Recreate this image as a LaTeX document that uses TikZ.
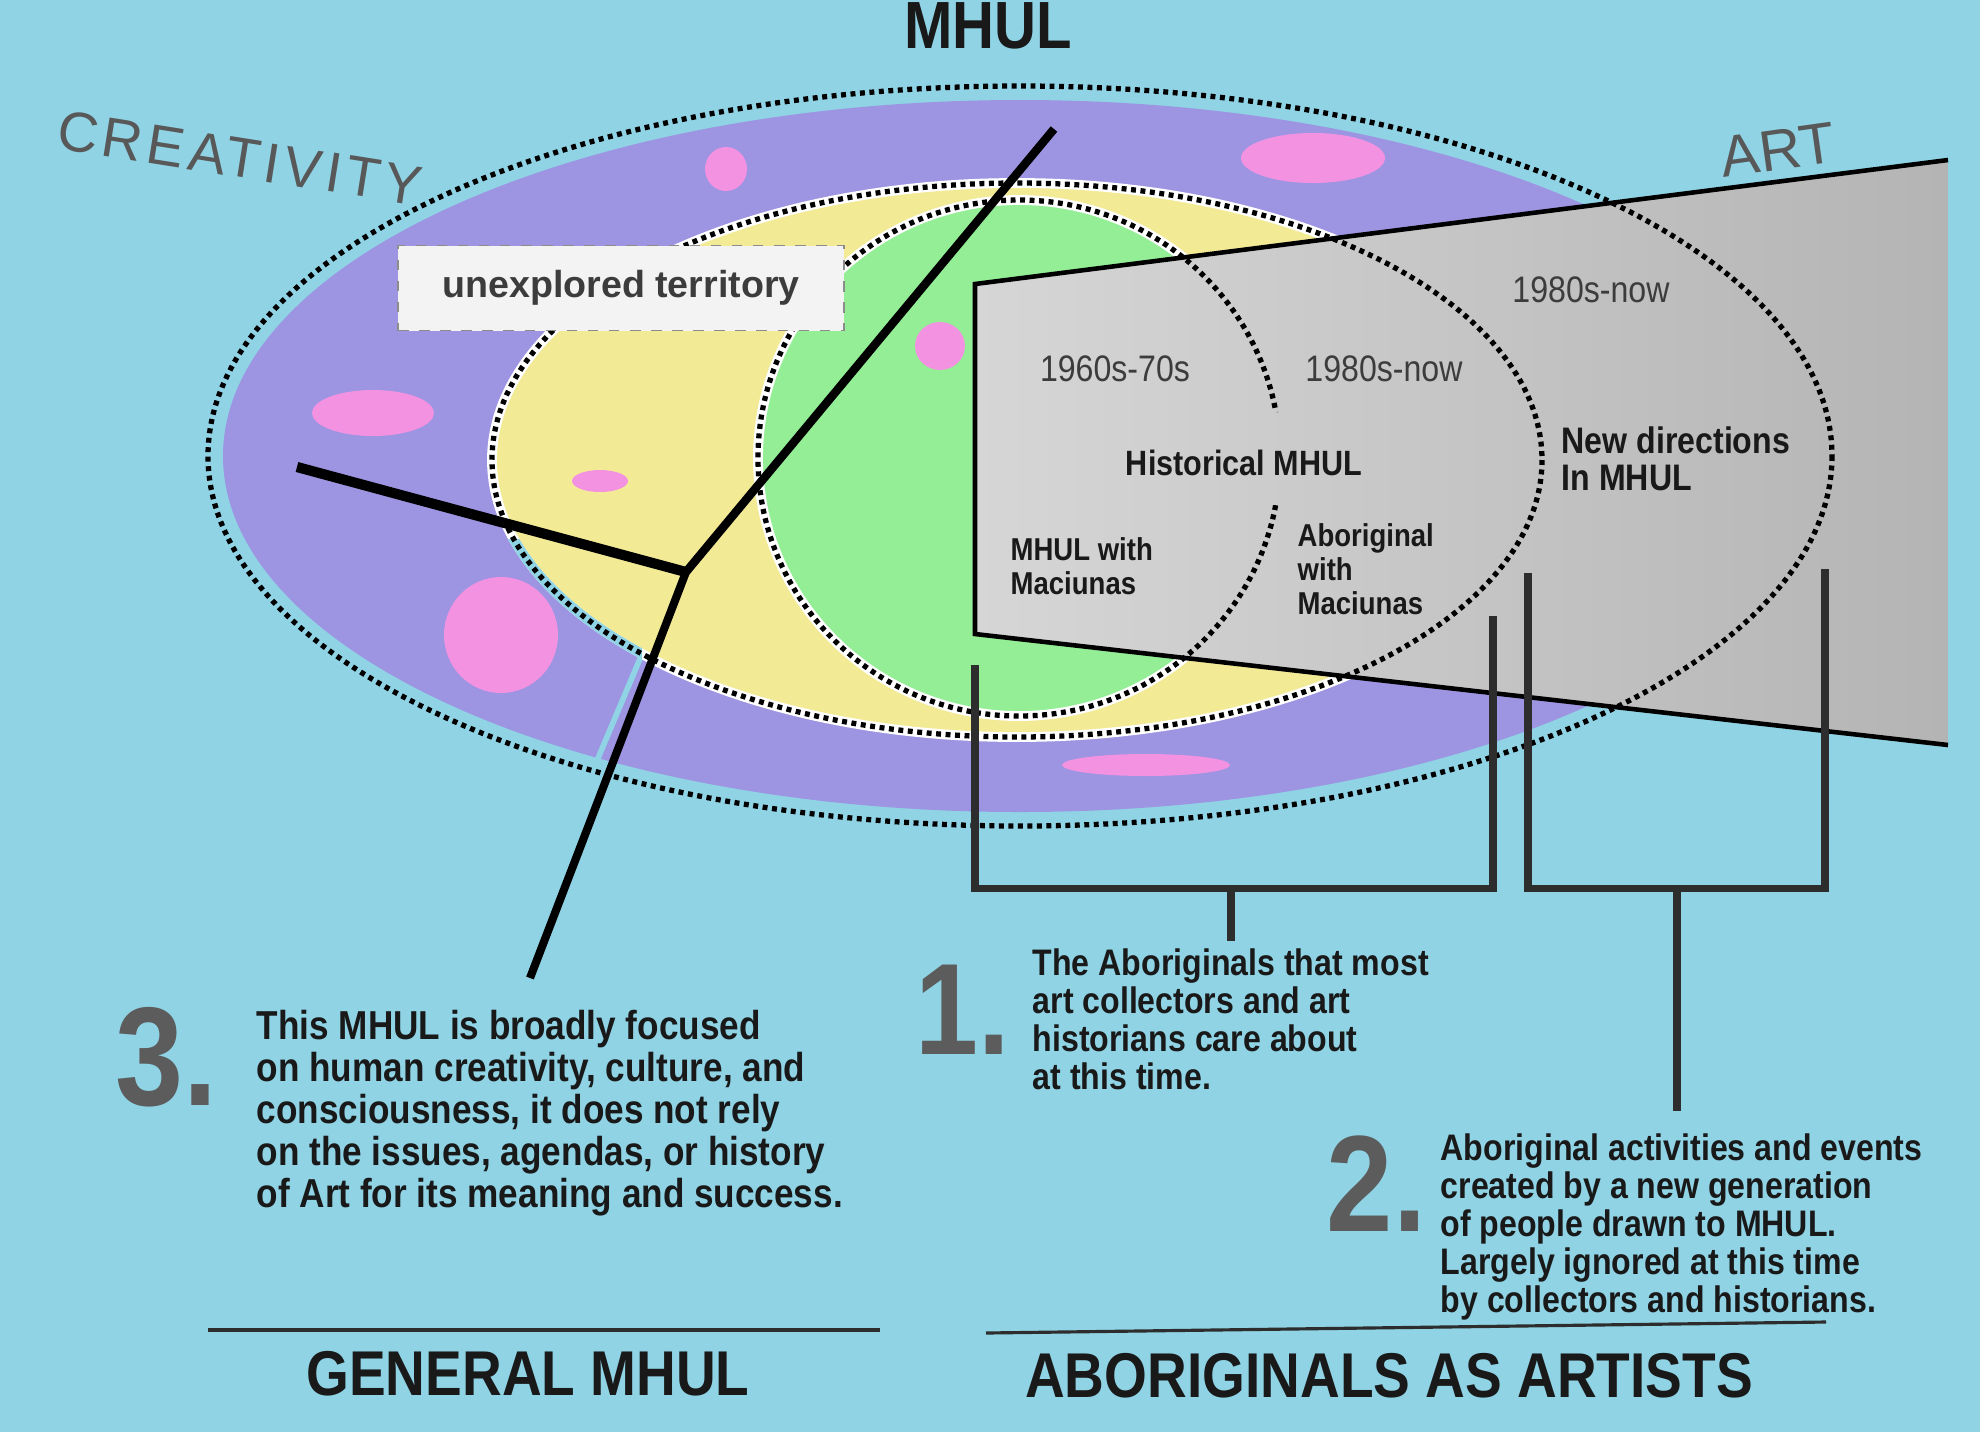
\documentclass[tikz,border=0pt]{standalone}
\usepackage{fontspec}
\setmainfont{Liberation Sans}
\newfontfamily\narrowsans[FakeStretch=0.87]{Liberation Sans}
\newfontfamily\widesans[LetterSpace=8]{Liberation Sans}
\definecolor{skyback}{RGB}{143,211,229}
\definecolor{lavender}{RGB}{157,148,226}
\definecolor{butter}{RGB}{243,234,150}
\definecolor{mint}{RGB}{148,238,150}
\definecolor{candy}{RGB}{244,146,226}
\definecolor{greyL}{RGB}{214,214,214}
\definecolor{greyR}{RGB}{180,180,180}
\definecolor{numcol}{RGB}{92,92,92}
\definecolor{labelgray}{RGB}{88,88,88}
\definecolor{eracol}{RGB}{60,60,60}
\definecolor{inkcol}{RGB}{25,25,25}
\definecolor{barcol}{RGB}{45,45,45}
\definecolor{boxfill}{RGB}{243,243,243}
\definecolor{boxedge}{RGB}{140,140,140}

\begin{document}
\begin{tikzpicture}[x=0.1mm,y=-0.1mm,
  dotline/.style={line width=1.5pt,dash pattern=on 1.4pt off 1.3pt},
  band/.style={white,line width=2.8pt},
  bar/.style={line width=2pt,draw=barcol},
  rule/.style={line width=0.9pt,draw=barcol},
  era/.style={font=\narrowsans\fontsize{10.5}{12}\selectfont,text=eracol,anchor=base,inner sep=0pt},
  zone/.style={font=\narrowsans\bfseries\fontsize{9}{9.7}\selectfont,text=inkcol,align=left,anchor=north west,inner sep=0pt},
  note/.style={font=\narrowsans\bfseries\fontsize{10.5}{10.8}\selectfont,text=inkcol,align=left,anchor=north west,inner sep=0pt},
  numeral/.style={font=\narrowsans\bfseries\fontsize{40}{40}\selectfont,text=numcol,anchor=base west,inner sep=0pt},
  heading/.style={font=\narrowsans\bfseries\fontsize{18}{18}\selectfont,text=inkcol,anchor=base,inner sep=0pt}]

\fill[skyback,use as bounding box] (0,0) rectangle (1980,1432);

\fill[lavender] (1020,456) ellipse [x radius=797, y radius=356];
\draw[dotline] (1020,456) ellipse [x radius=812, y radius=370];
\draw[skyback,line width=1.6pt] (642,654) -- (596,763);

\fill[butter] (1017,460) ellipse [x radius=525, y radius=277];
\draw[band] (1017,460) ellipse [x radius=525, y radius=277];
\begin{scope}
  \clip (400,539) rectangle (642,700);
  \draw[skyback,line width=2.8pt] (1017,460) ellipse [x radius=525, y radius=277];
\end{scope}
\draw[dotline] (1017,460) ellipse [x radius=525, y radius=277];

\fill[mint] (1019,458) ellipse [x radius=261, y radius=258];
\draw[band] (1019,458) ellipse [x radius=261, y radius=258];
\draw[dotline] (1019,458) ellipse [x radius=261, y radius=258];

\fill[candy] (726,169) ellipse [x radius=21, y radius=22];
\fill[candy] (1313,158) ellipse [x radius=72, y radius=25];
\fill[candy] (940,346) ellipse [x radius=25, y radius=24];
\fill[candy] (373,413) ellipse [x radius=61, y radius=23];
\fill[candy] (600,481) ellipse [x radius=28, y radius=11];
\fill[candy] (501,635) ellipse [x radius=57, y radius=58];
\fill[candy] (1146,765) ellipse [x radius=84, y radius=11];

\shade[left color=greyL,right color=greyR] (975,284) -- (1948,160) -- (1948,745) -- (975,634) -- cycle;
\draw[line width=1.3pt] (1948,160) -- (975,284) -- (975,634) -- (1948,745);
\begin{scope}
  \clip (975,284) -- (1948,160) -- (1948,745) -- (975,634) -- cycle;
  \draw[dotline] (1020,456) ellipse [x radius=812, y radius=370];
  \draw[dotline] (1017,460) ellipse [x radius=525, y radius=277];
  \clip (975,100) rectangle (1400,412) (975,505) rectangle (1400,800);
  \draw[dotline] (1019,458) ellipse [x radius=261, y radius=258];
\end{scope}

\node[draw=boxedge,dashed,fill=boxfill,minimum width=4.46cm,minimum height=0.85cm,
  font=\bfseries\fontsize{10.7}{12}\selectfont,text=eracol] (unexplored) at (621,288) {unexplored territory};

\coordinate (mhulTop) at (1054,129);
\coordinate (fork) at (686,572);
\coordinate (creaEnd) at (297,467);
\coordinate (generalEnd) at (530,978);
\draw[line width=2.4pt] (mhulTop) -- (fork);
\draw[line width=2.9pt] (creaEnd) -- (fork);
\draw[line width=2.3pt] (fork) -- (generalEnd);

\coordinate (b1a) at (975,665);
\coordinate (b1b) at (1493,616);
\coordinate (b1mid) at (1231,888);
\coordinate (b1end) at (1231,941);
\draw[bar] (b1a) -- (b1a |- b1mid) -- (b1b |- b1mid) -- (b1b);
\draw[bar] (b1mid) -- (b1end);
\coordinate (b2a) at (1528,573);
\coordinate (b2b) at (1825,569);
\coordinate (b2mid) at (1677,888);
\coordinate (b2end) at (1677,1111);
\draw[bar] (b2a) -- (b2a |- b2mid) -- (b2b |- b2mid) -- (b2b);
\draw[bar] (b2mid) -- (b2end);

\draw[rule] (208,1330) -- (880,1330);
\draw[rule] (986,1333) -- (1826,1322);

\node[heading,font=\narrowsans\bfseries\fontsize{19}{19}\selectfont] (mhul) at (988,48) {MHUL};
\node[font=\widesans\fontsize{16}{16}\selectfont,text=labelgray,rotate=-9,inner sep=0pt] (creativity) at (240,158) {CREATIVITY};
\node[font=\fontsize{16.5}{16.5}\selectfont,text=labelgray,rotate=8] (art) at (1778,150) {ART};

\node[era] (early) at (1115,381) {1960s-70s};
\node[era] (late) at (1384,381) {1980s-now};
\node[era] (lateArt) at (1591,302) {1980s-now};
\node[zone,anchor=base,font=\narrowsans\bfseries\fontsize{10}{10}\selectfont] (historical) at (1244,475) {Historical MHUL};
\node[zone] (withMac) at (1010,537) {MHUL with\\Maciunas};
\node[zone] (aboMac) at (1297,523) {Aboriginal\\with\\Maciunas};
\node[zone,font=\narrowsans\bfseries\fontsize{10.5}{10.5}\selectfont] (newdir) at (1561,426) {New directions\\In MHUL};

\node[numeral] (three) at (115,1105) {3.};
\node[numeral,font=\narrowsans\bfseries\fontsize{37}{37}\selectfont] (one) at (915,1054) {1.};
\node[numeral,font=\narrowsans\bfseries\fontsize{39}{39}\selectfont] (two) at (1326,1231) {2.};

\node[note,font=\narrowsans\bfseries\fontsize{11.5}{12}\selectfont] (generalNote) at (256,1009) {This MHUL is broadly focused\\on human creativity, culture, and\\consciousness, it does not rely\\on the issues, agendas, or history\\of Art for its meaning and success.};
\node[note] (oneNote) at (1032,948) {The Aboriginals that most\\art collectors and art\\historians care about\\at this time.};
\node[note] (twoNote) at (1440,1133) {Aboriginal activities and events\\created by a new generation\\of people drawn to MHUL.\\Largely ignored at this time\\by collectors and historians.};

\node[heading] (general) at (528,1395) {GENERAL MHUL};
\node[heading] (artists) at (1389,1397) {ABORIGINALS AS ARTISTS};
\end{tikzpicture}
\end{document}
